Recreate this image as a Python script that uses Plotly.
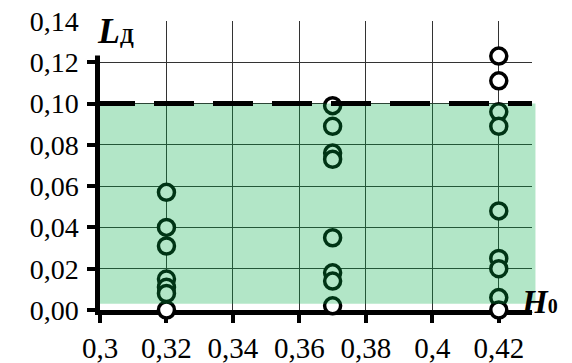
import plotly.graph_objects as go

# ---- data ----
x_ticks = [0.30, 0.32, 0.34, 0.36, 0.38, 0.40, 0.42]
x_ticktext = ["0,3", "0,32", "0,34", "0,36", "0,38", "0,4", "0,42"]
y_ticks = [0.00, 0.02, 0.04, 0.06, 0.08, 0.10, 0.12, 0.14]
y_ticktext = ["0,00", "0,02", "0,04", "0,06", "0,08", "0,10", "0,12", "0,14"]

h_032 = [0.057, 0.040, 0.031, 0.015, 0.011, 0.008, 0.000]
h_037 = [0.099, 0.089, 0.076, 0.073, 0.035, 0.018, 0.014, 0.002]
h_042 = [0.123, 0.111, 0.096, 0.089, 0.048, 0.025, 0.020, 0.006, 0.000]
x_groups = [0.32, 0.37, 0.42]

limit_L = 0.10        # dashed limit line
zone_bottom = 0.003   # bottom of green zone

FONT = "Liberation Serif"

fig = go.Figure()
for xv, ys in zip(x_groups, [h_032, h_037, h_042]):
    fig.add_trace(go.Scatter(
        x=[xv] * len(ys), y=ys, mode="markers",
        marker=dict(symbol="circle", size=16, color="white",
                    line=dict(color="black", width=3.5)),
        cliponaxis=False, showlegend=False, hoverinfo="skip"))

# green zone (semi-transparent, drawn above markers and grid)
fig.add_shape(type="rect", xref="paper", yref="y", x0=0, x1=1.008,
              y0=zone_bottom, y1=limit_L, layer="above",
              fillcolor="rgba(0,171,70,0.30)", line=dict(width=0))
# dashed limit line
fig.add_shape(type="line", xref="x", yref="y", x0=0.30, x1=0.43,
              y0=limit_L, y1=limit_L, layer="above",
              line=dict(color="black", width=5,
                        dash="35px,19px,40px,19px,40px,19px,40px,19px,40px,19px,40px,19px,40px,19px,40px,19px"))

fig.update_xaxes(range=[0.30, 0.43], tickvals=x_ticks, ticktext=x_ticktext,
                 showgrid=True, gridcolor="#333333", gridwidth=1,
                 zeroline=False, showline=True, linecolor="black", linewidth=4.5,
                 ticks="outside", ticklen=8, tickwidth=4, tickcolor="black",
                 ticklabelstandoff=0, layer="below traces", automargin=False,
                 tickfont=dict(family=FONT, size=29, color="black"))
fig.update_yaxes(range=[0, 0.14], tickvals=y_ticks, ticktext=y_ticktext,
                 showgrid=True, gridcolor="#333333", gridwidth=1,
                 zeroline=False, showline=True, linecolor="black", linewidth=4.5,
                 ticks="outside", ticklen=8, tickwidth=4, tickcolor="black",
                 ticklabelstandoff=3, layer="below traces", automargin=False,
                 tickfont=dict(family=FONT, size=28, color="black"))

# axis labels
fig.add_annotation(xref="paper", yref="paper", x=(111 - 100) / 432, y=(310 - 31) / 289,
                   xanchor="center", yanchor="middle", showarrow=False, align="right",
                   text="<b><i>L</i><span style='font-size:20px'>Д</span></b>",
                   font=dict(family=FONT, size=36, color="black"),
                   bgcolor="white", width=46, height=46)
fig.add_annotation(xref="paper", yref="paper", x=(519 - 100) / 432, y=(310 - 302) / 289,
                   xanchor="left", yanchor="middle", showarrow=False,
                   text="<b><i>H</i><span style='font-size:20px'>0</span></b>",
                   font=dict(family=FONT, size=33, color="black"))

fig.update_layout(width=572, height=363, margin=dict(l=100, r=40, t=21, b=53),
                  plot_bgcolor="white", paper_bgcolor="white",
                  font=dict(family=FONT, color="black"))

fig.write_html("out.html", config={"displayModeBar": False},
               post_script="document.body.style.margin='0';document.body.style.overflow='hidden';")
